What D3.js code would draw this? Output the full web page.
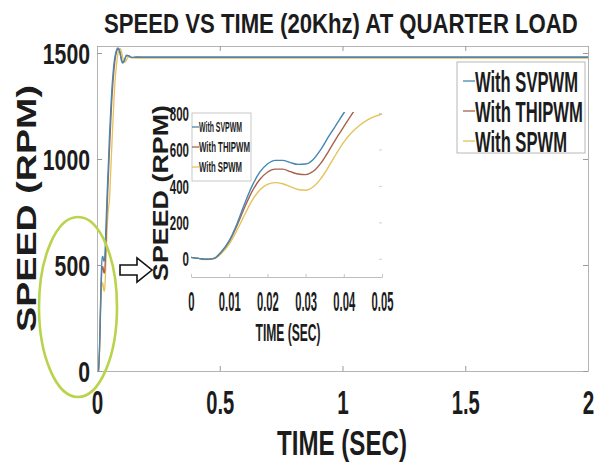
<!DOCTYPE html>
<html>
<head>
<meta charset="utf-8">
<script src="https://cdn.jsdelivr.net/npm/d3@7"></script>
<style>
  html, body { margin: 0; padding: 0; background: #fff; }
  svg { display: block; }
  text { font-family: "Liberation Sans", Arial, sans-serif; font-weight: bold; fill: #1c1c1c; }
</style>
</head>
<body>
<svg id="chart" width="602" height="469"></svg>
<script>
// ---- series ----
const seriesNames = ["With SVPWM", "With THIPWM", "With SPWM"];
const seriesColors = ["#4488b3", "#a9614d", "#e5c25a"];

// start-up transient, first 50 ms (time in s, speed in rpm)
const startTime = [0, 0.002, 0.004, 0.006, 0.008, 0.010, 0.012, 0.014, 0.016, 0.018,
                   0.020, 0.022, 0.024, 0.026, 0.028, 0.030, 0.032, 0.034, 0.036, 0.038,
                   0.040, 0.042, 0.044, 0.046, 0.048, 0.050];
const svpwmStart  = [8, 2, -3, 2, 40, 100, 190, 300, 400, 475,
                     520, 540, 540, 528, 518, 520, 545, 600, 670, 735,
                     800, 860, 915, 970, 1030, 1090];
const thipwmStart = [8, 2, -3, 2, 38, 95, 180, 280, 370, 435,
                     475, 492, 492, 478, 465, 462, 480, 525, 590, 660,
                     725, 790, 850, 910, 965, 1020];
const spwmStart   = [8, 2, -4, 0, 30, 80, 155, 240, 320, 378,
                     408, 418, 412, 396, 380, 376, 395, 440, 505, 575,
                     640, 692, 730, 760, 780, 795];

// remainder of the run
const tailTime   = [0.055, 0.06, 0.065, 0.07, 0.075, 0.08, 0.085, 0.09, 0.095, 0.1, 0.105,
                    0.11, 0.115, 0.12, 0.13, 0.14, 0.16, 0.2, 0.5, 1, 1.5, 2];
const svpwmTail  = [1210, 1320, 1400, 1460, 1495, 1515, 1524, 1515, 1490, 1462, 1452,
                    1460, 1478, 1490, 1486, 1478, 1481, 1480, 1480, 1480, 1480, 1480];
const thipwmTail = [1150, 1270, 1360, 1430, 1478, 1505, 1520, 1518, 1498, 1470, 1455,
                    1460, 1475, 1487, 1487, 1479, 1480, 1480, 1480, 1480, 1480, 1480];
const spwmTail   = [920, 1050, 1180, 1300, 1390, 1450, 1495, 1515, 1520, 1505, 1478,
                    1460, 1458, 1468, 1482, 1480, 1476, 1476, 1476, 1476, 1476, 1476];

// ---- ticks ----
const mainXTicks = [0, 0.5, 1, 1.5, 2];
const mainYTicks = [0, 500, 1000, 1500];
const insetXTicks = [0, 0.01, 0.02, 0.03, 0.04, 0.05];
const insetYTicks = [0, 200, 400, 600, 800];

// ---- text ----
const titleText = "SPEED VS TIME (20Khz) AT QUARTER LOAD";
const xTitle = "TIME (SEC)";
const yTitle = "SPEED (RPM)";

const svg = d3.select("#chart");

const startSets = [svpwmStart, thipwmStart, spwmStart];
const tailSets = [svpwmTail, thipwmTail, spwmTail];
const toPoints = (ts, vs) => ts.map((t, i) => ({ t, v: vs[i] }));

// target width of a numeric label in the condensed face
function numWidth(s, digit, dot) {
  let w = 0;
  for (const c of s) w += (c === "." ? dot : digit);
  return w;
}

// squeeze a text element horizontally to a given width, placed at (x, y)
function fit(t, x, y, width, rotate) {
  t.attr("x", 0).attr("y", 0).attr("dy", null);
  const natural = t.node().getComputedTextLength();
  const sx = width / natural;
  const rot = rotate ? ` rotate(${rotate})` : "";
  t.attr("transform", `translate(${x},${y})${rot} scale(${sx},1)`);
}

function addText(parent, str, opts) {
  const t = parent.append("text")
    .attr("font-size", opts.size)
    .attr("text-anchor", opts.anchor || "start")
    .text(str);
  fit(t, opts.x, opts.y, opts.width, opts.rotate);
  return t;
}

function styleAxis(g, col) {
  g.select(".domain").attr("stroke", col).attr("stroke-width", 1);
  g.selectAll(".tick line").attr("stroke", "#9a9a9a");
}

// restyle tick labels of an axis: size, offset and condensed width
function styleTickText(g, size, dx, dy, digit, dot) {
  g.selectAll(".tick text")
    .attr("font-size", size).attr("fill", "#1c1c1c").attr("font-family", null)
    .each(function () {
      const t = d3.select(this);
      fit(t, dx, dy, numWidth(this.textContent, digit, dot));
    });
}

// ================= main axes =================
const M = { left: 97, right: 588, top: 46, bottom: 371 };
const x = d3.scaleLinear().domain([0, 2]).range([M.left, M.right]);
const y = d3.scaleLinear().domain([0, 1533]).range([M.bottom, M.top]);

const defs = svg.append("defs");
defs.append("clipPath").attr("id", "mainClip")
  .append("rect").attr("x", M.left).attr("y", M.top)
  .attr("width", M.right - M.left).attr("height", M.bottom - M.top);

const line = d3.line().x(d => x(d.t)).y(d => y(d.v)).curve(d3.curveMonotoneX);
const mainLines = svg.append("g").attr("clip-path", "url(#mainClip)");
[2, 1, 0].forEach(i => {
  const pts = toPoints(startTime.concat(tailTime), startSets[i].concat(tailSets[i]));
  mainLines.append("path").datum(pts)
    .attr("fill", "none").attr("stroke", seriesColors[i]).attr("stroke-width", 1.3)
    .attr("d", line);
});

const gxb = svg.append("g").attr("transform", `translate(0,${M.bottom})`)
  .call(d3.axisBottom(x).tickValues(mainXTicks).tickSize(-5).tickSizeOuter(0)
    .tickFormat(d3.format("")));
styleAxis(gxb, "#b4b4b4");
styleTickText(gxb, 34, 0, 43, 11.5, 5);

const gxt = svg.append("g").attr("transform", `translate(0,${M.top})`)
  .call(d3.axisTop(x).tickValues(mainXTicks).tickSize(-5).tickSizeOuter(0).tickFormat(""));
styleAxis(gxt, "#b4b4b4");

const gyl = svg.append("g").attr("transform", `translate(${M.left},0)`)
  .call(d3.axisLeft(y).tickValues(mainYTicks).tickSize(-5).tickSizeOuter(0)
    .tickFormat(d3.format("")));
styleAxis(gyl, "#b4b4b4");
styleTickText(gyl, 30, -7, 10.7, 11.8, 5);

const gyr = svg.append("g").attr("transform", `translate(${M.right},0)`)
  .call(d3.axisRight(y).tickValues(mainYTicks).tickSize(-5).tickSizeOuter(0).tickFormat(""));
styleAxis(gyr, "#b4b4b4");

// titles
addText(svg, titleText, { x: 104, y: 33, size: 27, width: 474 });
addText(svg, xTitle, { x: 342, y: 455, size: 35, width: 130, anchor: "middle" });
addText(svg, yTitle, { x: 36, y: 208.5, size: 27, width: 247, anchor: "middle", rotate: -90 });

// legend
const leg = svg.append("g");
leg.append("rect").attr("x", 457).attr("y", 62).attr("width", 128).attr("height", 91)
  .attr("fill", "#fff").attr("stroke", "#b8b8b8").attr("stroke-width", 1);
const legRows = [81, 111, 141];
const legWidths = [103, 108, 92];
seriesNames.forEach((name, i) => {
  leg.append("line").attr("x1", 463).attr("x2", 475)
    .attr("y1", legRows[i]).attr("y2", legRows[i])
    .attr("stroke", seriesColors[i]).attr("stroke-width", 1.3);
  addText(leg, name, { x: 475, y: legRows[i] + 10.5, size: 29, width: legWidths[i] });
});

// ================= zoomed inset =================
const I = { left: 191, right: 382, top: 113, bottom: 277 };
const xi = d3.scaleLinear().domain([0, 0.05]).range([I.left, I.right]);
const yi = d3.scaleLinear().domain([-100, 800]).range([I.bottom, I.top]);

defs.append("clipPath").attr("id", "insetClip")
  .append("rect").attr("x", I.left).attr("y", I.top - 1)
  .attr("width", I.right - I.left).attr("height", I.bottom - I.top + 1);

const lineI = d3.line().x(d => xi(d.t)).y(d => yi(d.v)).curve(d3.curveMonotoneX);
const insetLines = svg.append("g").attr("clip-path", "url(#insetClip)");
[2, 1, 0].forEach(i => {
  insetLines.append("path").datum(toPoints(startTime, startSets[i]))
    .attr("fill", "none").attr("stroke", seriesColors[i]).attr("stroke-width", 1.4)
    .attr("d", lineI);
});

const gib = svg.append("g").attr("transform", `translate(0,${I.bottom})`)
  .call(d3.axisBottom(xi).tickValues(insetXTicks).tickSize(-3).tickSizeOuter(0)
    .tickFormat(d3.format("")));
styleAxis(gib, "#bdbdbd");
gib.selectAll(".tick line").attr("stroke", "#c8c8c8");
styleTickText(gib, 27, 0, 34, 6.3, 3);

const gil = svg.append("g").attr("transform", `translate(${I.left},0)`)
  .call(d3.axisLeft(yi).tickValues(insetYTicks).tickSize(0).tickSizeOuter(0)
    .tickFormat(d3.format("")));
gil.select(".domain").remove();
styleTickText(gil, 20, -2, 7.2, 6.4, 3);

const gir = svg.append("g").attr("transform", `translate(${I.right},0)`)
  .call(d3.axisRight(yi).tickValues(insetYTicks).tickSize(-3).tickSizeOuter(0).tickFormat(""));
gir.select(".domain").remove();
gir.selectAll(".tick line").attr("stroke", "#cfcfcf");

addText(svg, xTitle, { x: 288, y: 341, size: 23, width: 65, anchor: "middle" });
addText(svg, yTitle, { x: 168, y: 193, size: 22, width: 176, anchor: "middle", rotate: -90 });

// inset legend
const legI = svg.append("g");
legI.append("rect").attr("x", 192).attr("y", 113).attr("width", 59).attr("height", 68)
  .attr("fill", "#fff").attr("stroke", "#c8c8c8").attr("stroke-width", 1);
const legIRows = [127, 147, 167];
const legIWidths = [43, 51, 43];
seriesNames.forEach((name, i) => {
  legI.append("line").attr("x1", 192).attr("x2", 199)
    .attr("y1", legIRows[i]).attr("y2", legIRows[i])
    .attr("stroke", seriesColors[i]).attr("stroke-width", 1.3);
  addText(legI, name, { x: 199, y: legIRows[i] + 5, size: 14, width: legIWidths[i] });
});

// ================= annotations =================
// highlight around the start-up region
svg.append("ellipse")
  .attr("cx", 78).attr("cy", 307).attr("rx", 39).attr("ry", 90)
  .attr("fill", "none").attr("stroke", "#b9d44c").attr("stroke-width", 2.6);

// hollow arrow pointing to the inset
svg.append("path")
  .attr("d", "M120,265 L137,265 L137,258 L152,270 L137,282 L137,275 L120,275 Z")
  .attr("fill", "#fff").attr("stroke", "#111").attr("stroke-width", 1.6)
  .attr("stroke-linejoin", "miter");
</script>
</body>
</html>
